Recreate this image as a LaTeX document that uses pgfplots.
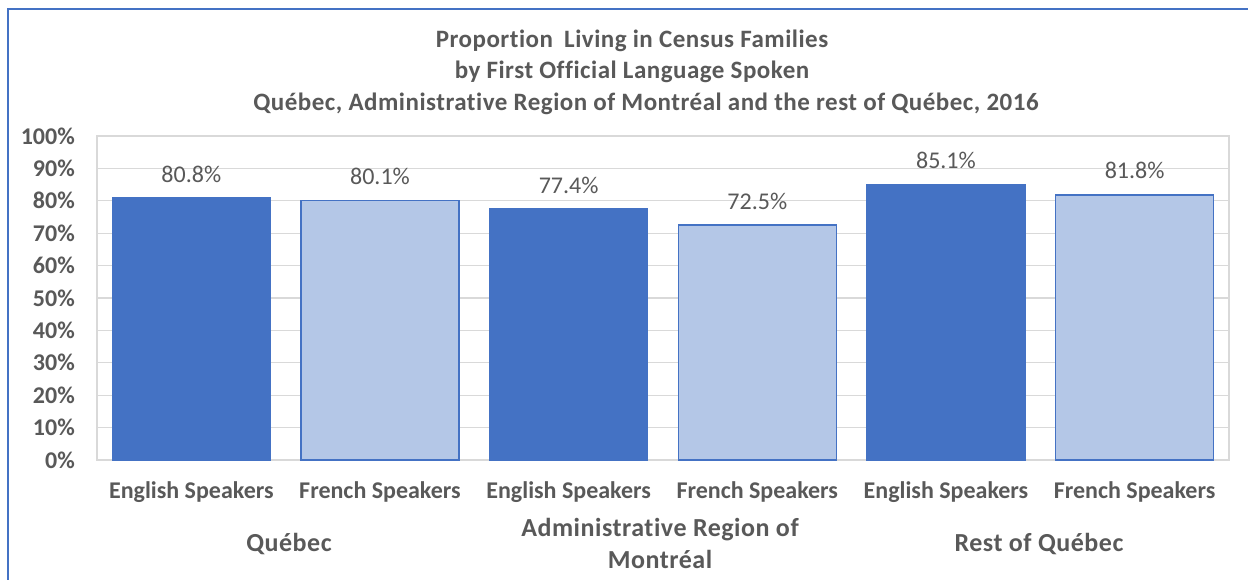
\documentclass[border=0pt]{standalone}
\usepackage{fontspec}
\setmainfont[Ligatures=NoCommon]{Carlito}
\newfontfamily\spacedfont[LetterSpace=2,Ligatures=NoCommon]{Carlito}
\usepackage{pgfplots}
\pgfplotsset{compat=1.18}
\definecolor{txt}{HTML}{595959}
\definecolor{darkbar}{HTML}{4472C4}
\definecolor{lightbar}{HTML}{B4C7E7}
\definecolor{gridc}{HTML}{D9D9D9}
\definecolor{frame}{HTML}{4472C4}
\newcommand{\F}{\fontsize{24bp}{31bp}\selectfont}
\newcommand{\T}{\spacedfont\fontsize{25bp}{31bp}\selectfont\bfseries}
\newcommand{\G}{\spacedfont\fontsize{26bp}{32bp}\selectfont\bfseries}
\begin{document}
\begin{tikzpicture}[x=1bp,y=1bp]
\useasboundingbox (0,0) rectangle (1248,580);
\fill[white] (0,0) rectangle (1248,580);
\draw[frame, line width=2bp] (8,0) -- (8,571) -- (1248,571);
% title
\node[anchor=base, text=txt, font=\T] at (632,532.5) {Proportion\hspace{5bp} Living in Census Families};
\node[anchor=base, text=txt, font=\T] at (632,501.5) {by First Official Language Spoken};
\node[anchor=base, text=txt, font=\T] at (646,469.5) {Québec, Administrative Region of Montréal and the rest of Québec, 2016};
\begin{axis}[
  at={(97bp,120bp)}, anchor=south west,
  scale only axis, width=1132bp, height=324bp,
  ymin=0, ymax=100, xmin=-0.5, xmax=5.5,
  ybar, bar width=158bp,
  axis line style={gridc, line width=1.2bp},
  ymajorgrids, grid style={gridc, line width=1.2bp},
  major tick length=0pt,
  ytick={0,10,...,100},
  yticklabel={\pgfmathprintnumber{\tick}\%},
  /pgf/number format/assume math mode=true,
  yticklabel style={anchor=east, inner sep=0pt, xshift=-22bp, text=txt, font=\F\bfseries},
  xtick={0,1,2,3,4,5},
  xticklabels={English Speakers, French Speakers, English Speakers, French Speakers, English Speakers, French Speakers},
  xticklabel style={anchor=base, inner sep=0pt, yshift=-39bp, text=txt, font=\F\bfseries},
  nodes near coords={\pgfmathprintnumber[fixed,fixed zerofill,precision=1]{\pgfplotspointmeta}\%},
  every node near coord/.append style={anchor=base, yshift=16bp, text=txt, font=\F},
  clip=false,
]
\addplot[fill=darkbar, draw=darkbar, line width=1.5bp, bar shift=0pt] coordinates {(0,80.8) (2,77.4) (4,85.1)};
\addplot[fill=lightbar, draw=darkbar, line width=1.5bp, bar shift=0pt] coordinates {(1,80.1) (3,72.5) (5,81.8)};
\end{axis}
\node[anchor=base, text=txt, font=\G] at (289,28) {Québec};
\node[anchor=base, text=txt, font=\G] at (660,43) {Administrative Region of};
\node[anchor=base, text=txt, font=\G] at (660,11) {Montréal};
\node[anchor=base, text=txt, font=\G] at (1039,28) {Rest of Québec};
\end{tikzpicture}
\end{document}
